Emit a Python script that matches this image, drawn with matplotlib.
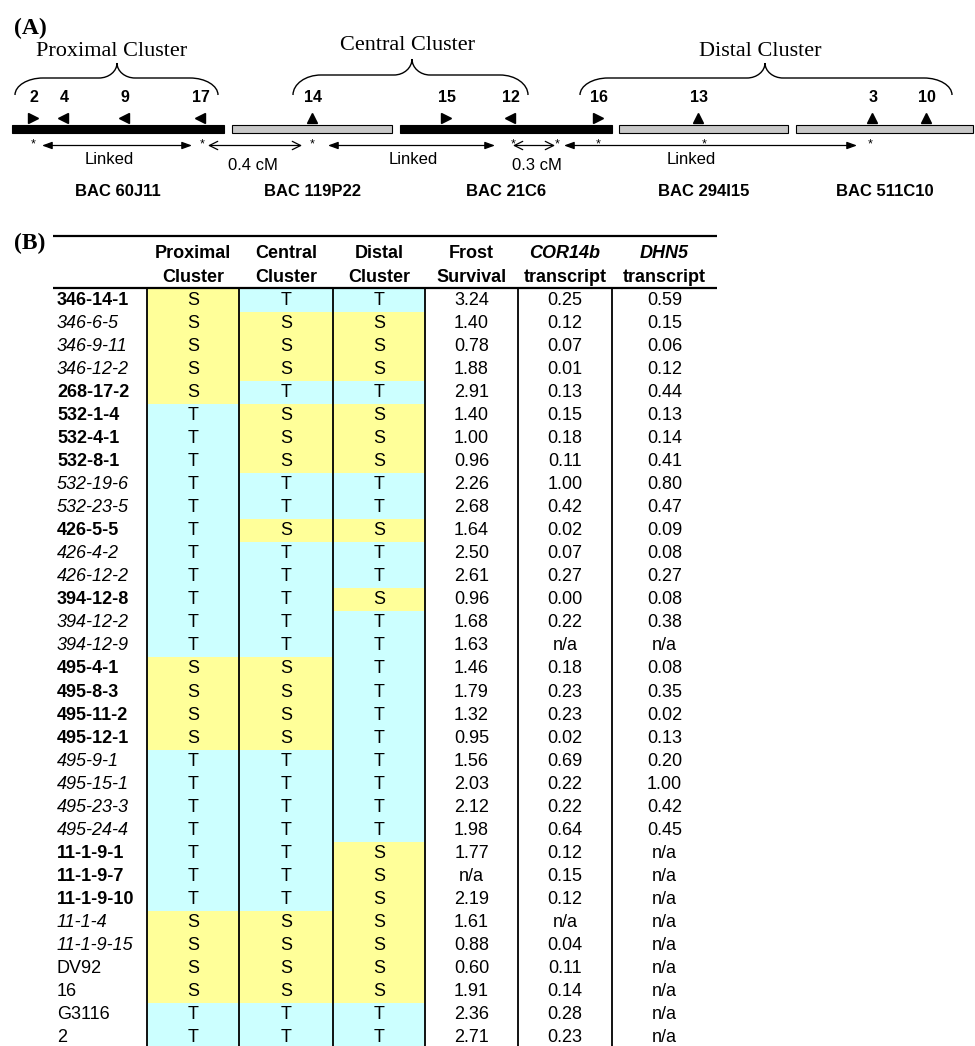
import matplotlib
matplotlib.use('Agg')
import matplotlib.pyplot as plt
from matplotlib.path import Path
from matplotlib.patches import PathPatch

# ---------------- Panel A data ----------------
bac_names = ['BAC 60J11', 'BAC 119P22', 'BAC 21C6', 'BAC 294I15', 'BAC 511C10']
bac_dark = [True, False, True, False, False]
gene_ids = ['2', '4', '9', '17', '14', '15', '12', '16', '13', '3', '10']
gene_dir = ['>', '<', '<', '<', '^', '>', '<', '>', '^', '^', '^']
cluster_names = ['Proximal Cluster', 'Central Cluster', 'Distal Cluster']
link_label = ['Linked', '0.4 cM', 'Linked', '0.3 cM', 'Linked']
link_filled = [True, False, True, False, True]

# ---------------- Panel B data ----------------
lines = ['346-14-1', '346-6-5', '346-9-11', '346-12-2', '268-17-2', '532-1-4', '532-4-1',
         '532-8-1', '532-19-6', '532-23-5', '426-5-5', '426-4-2', '426-12-2', '394-12-8',
         '394-12-2', '394-12-9', '495-4-1', '495-8-3', '495-11-2', '495-12-1', '495-9-1',
         '495-15-1', '495-23-3', '495-24-4', '11-1-9-1', '11-1-9-7', '11-1-9-10', '11-1-4',
         '11-1-9-15', 'DV92', '16', 'G3116', '2']
line_style = ['b', 'i', 'i', 'i', 'b', 'b', 'b', 'b', 'i', 'i', 'b', 'i', 'i', 'b', 'i', 'i',
              'b', 'b', 'b', 'b', 'i', 'i', 'i', 'i', 'b', 'b', 'b', 'i', 'i', 'n', 'n', 'n', 'n']
proximal = list('SSSSSTTTTTTTTTTTSSSSTTTTTTTSSSSTT')
central = list('TSSSTSSSTTSTTTTTSSSSTTTTTTTSSSSTT')
distal = list('TSSSTSSSTTSTTSTTTTTTTTTTSSSSSSSTT')
frost = [3.24, 1.40, 0.78, 1.88, 2.91, 1.40, 1.00, 0.96, 2.26, 2.68, 1.64, 2.50, 2.61, 0.96,
         1.68, 1.63, 1.46, 1.79, 1.32, 0.95, 1.56, 2.03, 2.12, 1.98, 1.77, None, 2.19, 1.61,
         0.88, 0.60, 1.91, 2.36, 2.71]
cor14b = [0.25, 0.12, 0.07, 0.01, 0.13, 0.15, 0.18, 0.11, 1.00, 0.42, 0.02, 0.07, 0.27, 0.00,
          0.22, None, 0.18, 0.23, 0.23, 0.02, 0.69, 0.22, 0.22, 0.64, 0.12, 0.15, 0.12, None,
          0.04, 0.11, 0.14, 0.28, 0.23]
dhn5 = [0.59, 0.15, 0.06, 0.12, 0.44, 0.13, 0.14, 0.41, 0.80, 0.47, 0.09, 0.08, 0.27, 0.08,
        0.38, None, 0.08, 0.35, 0.02, 0.13, 0.20, 1.00, 0.42, 0.45, None, None, None, None,
        None, None, None, None, None]
header_top = ['Proximal', 'Central', 'Distal', 'Frost', 'COR14b', 'DHN5']
header_bottom = ['Cluster', 'Cluster', 'Cluster', 'Survival', 'transcript', 'transcript']
header_italic = [False, False, False, False, True, True]

# ---------------- layout (pixels) ----------------
W, H = 975, 1046
bac_x0 = [12, 232, 400, 619, 796]
bac_x1 = [224, 392, 612, 788, 973]
gene_x = [33, 63, 124, 200, 312, 446, 510, 598, 698, 872, 926]
clu_x0 = [15, 293, 580]
clu_x1 = [218, 528, 952]
clu_xm = [117, 412, 765]
clu_ya = [78, 75, 78]
clu_yp = [63, 59, 63]
clu_yt = [52, 45, 52]
star_x = [33, 202, 312, 513, 557, 598, 704, 870]
link_x0 = [42, 208, 328, 513, 564]
link_x1 = [192, 302, 495, 555, 857]
link_tx = [109, 253, 413, 537, 691]

SANS = 'Liberation Sans'
SERIF = 'Liberation Serif'
YELLOW = '#FFFF99'
CYAN = '#CCFFFF'
GRAY = '#C8C8C8'

fig = plt.figure(figsize=(W / 100, H / 100), dpi=100)
ax = fig.add_axes([0, 0, 1, 1])
ax.set_xlim(0, W)
ax.set_ylim(H, 0)
ax.axis('off')

# ---- Panel A ----
ax.text(14, 28, '(A)', family=SERIF, weight='bold', fontsize=17, ha='left', va='center')

bar_y, bar_h = 125, 8
for name, x0, x1, dark in zip(bac_names, bac_x0, bac_x1, bac_dark):
    ax.barh(bar_y + bar_h / 2, x1 - x0, left=x0, height=bar_h,
            color='black' if dark else GRAY, edgecolor='black', linewidth=0.8)
    ax.text((x0 + x1) / 2, 191, name, family=SANS, weight='bold', fontsize=12,
            ha='center', va='center')

for gid, gx, gd in zip(gene_ids, gene_x, gene_dir):
    ax.plot([gx], [117.5], marker=gd, color='black', markersize=7.5, linestyle='none')
    ax.text(gx + 1, 98, gid, family=SANS, weight='bold', fontsize=11.5, ha='center', va='center')


def brace(x0, x1, xm, ye, ya, yp, r=28, r2=18):
    k = 0.45
    verts = [(x0, ye),
             (x0, ye - 0.55 * (ye - ya)), (x0 + k * r, ya), (x0 + r, ya),
             (xm - r2, ya),
             (xm - k * r2, ya), (xm, yp + 0.55 * (ya - yp)), (xm, yp),
             (xm, yp + 0.55 * (ya - yp)), (xm + k * r2, ya), (xm + r2, ya),
             (x1 - r, ya),
             (x1 - k * r, ya), (x1, ye - 0.55 * (ye - ya)), (x1, ye)]
    codes = [Path.MOVETO] + [Path.CURVE4] * 3 + [Path.LINETO] + [Path.CURVE4] * 6 + \
            [Path.LINETO] + [Path.CURVE4] * 3
    ax.add_patch(PathPatch(Path(verts, codes), facecolor='none', edgecolor='black', lw=1.0))


for name, x0, x1, xm, ya, yp, yt in zip(cluster_names, clu_x0, clu_x1, clu_xm, clu_ya, clu_yp, clu_yt):
    brace(x0, x1, xm, 95, ya, yp)
    ax.text(xm - 5, yt, name, family=SERIF, fontsize=16, ha='center', va='center')

for sx in star_x:
    ax.text(sx, 144, '*', family=SANS, fontsize=9, ha='center', va='center')

for x0, x1, lab, tx, filled in zip(link_x0, link_x1, link_label, link_tx, link_filled):
    if filled:
        style = '<|-|>,head_length=0.6,head_width=0.22'
    else:
        style = '<->,head_length=0.6,head_width=0.3'
    ax.annotate('', xy=(x1, 145.5), xytext=(x0, 145.5),
                arrowprops=dict(arrowstyle=style, color='black', lw=0.9,
                                shrinkA=0, shrinkB=0, mutation_scale=10))
    ty = 160 if lab == 'Linked' else 165
    ax.text(tx, ty, lab, family=SANS, fontsize=12, ha='center', va='center')

# ---- Panel B ----
row_top_px = 288.5
row_h_px = 23.06
axt = fig.add_axes([0, 0, 1, 1])
axt.set_xlim(0, W)
axt.set_ylim((H - row_top_px) / row_h_px, (0 - row_top_px) / row_h_px)
axt.axis('off')
axt.patch.set_alpha(0)


def py(px):
    return (px - row_top_px) / row_h_px


ax.text(14, 243, '(B)', family=SERIF, weight='bold', fontsize=17, ha='left', va='center')

col_edges = [147, 239, 333, 425, 518, 612, 717]
label_x = 57
FS = 13

n = len(lines)
rows = list(range(n))
geno_cols = [proximal, central, distal]
for ci, geno in enumerate(geno_cols):
    x0, x1 = col_edges[ci], col_edges[ci + 1]
    colors = [YELLOW if g == 'S' else CYAN for g in geno]
    axt.barh([r + 0.5 for r in rows], x1 - x0, left=x0, height=1.0, color=colors, linewidth=0)
    for r, g in zip(rows, geno):
        axt.text((x0 + x1) / 2, r + 0.5, g, family=SANS, fontsize=FS, ha='center', va='center')

for ci, vals in zip([3, 4, 5], [frost, cor14b, dhn5]):
    x0, x1 = col_edges[ci], col_edges[ci + 1]
    for r, v in zip(rows, vals):
        s = 'n/a' if v is None else '%.2f' % v
        axt.text((x0 + x1) / 2, r + 0.5, s, family=SANS, fontsize=FS, ha='center', va='center')

for r, (name, st) in enumerate(zip(lines, line_style)):
    kw = {}
    if st == 'b':
        kw['weight'] = 'bold'
    elif st == 'i':
        kw['style'] = 'italic'
    axt.text(label_x, r + 0.5, name, family=SANS, fontsize=FS, ha='left', va='center', **kw)

for ci in range(6):
    xc = (col_edges[ci] + col_edges[ci + 1]) / 2
    axt.text(xc, py(253), header_top[ci], family=SANS, weight='bold', fontsize=FS,
             style='italic' if header_italic[ci] else 'normal', ha='center', va='center')
    axt.text(xc, py(277), header_bottom[ci], family=SANS, weight='bold', fontsize=FS,
             ha='center', va='center')

axt.hlines([py(236), py(288)], 53, 717, color='black', lw=1.6)
axt.vlines(col_edges[:-1], py(288), (H - row_top_px) / row_h_px + 1, color='black', lw=1.3)

fig.savefig('out.png', dpi=100)
